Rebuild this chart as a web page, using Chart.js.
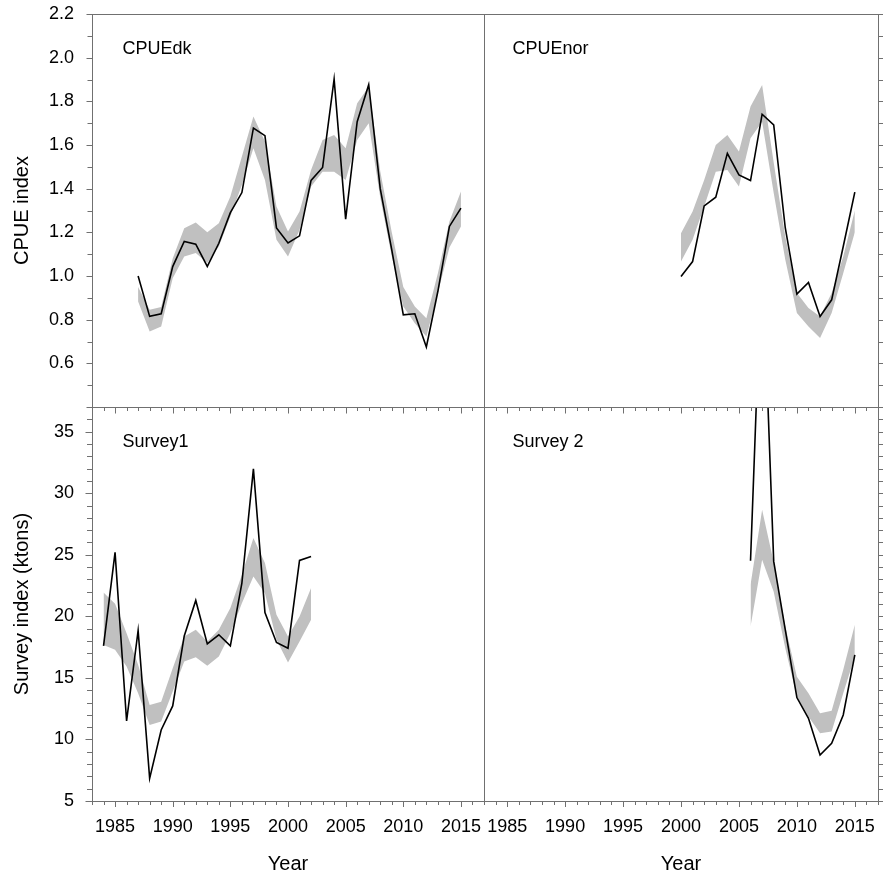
<!DOCTYPE html>
<html><head><meta charset="utf-8">
<script src="https://cdn.jsdelivr.net/npm/chart.js@4.4.1/dist/chart.umd.min.js"></script>
<style>
html,body{margin:0;padding:0;background:#fff;}
#wrap{position:relative;width:883px;height:879px;overflow:hidden;}
#wrap canvas{position:absolute;left:0;top:0;}
</style></head><body>
<div id="wrap">
<canvas id="cTL" width="883" height="879"></canvas>
<canvas id="cTR" width="883" height="879"></canvas>
<canvas id="cBL" width="883" height="879"></canvas>
<canvas id="cBR" width="883" height="879"></canvas>
</div>
<script>
// ---------------- data ----------------
const dkYears  = [1987,1988,1989,1990,1991,1992,1993,1994,1995,1996,1997,1998,1999,2000,2001,2002,2003,2004,2005,2006,2007,2008,2009,2010,2011,2012,2013,2014,2015];
const dkIndex  = [1.00,0.815,0.827,1.043,1.158,1.146,1.044,1.15,1.29,1.382,1.678,1.643,1.22,1.151,1.184,1.438,1.497,1.902,1.26,1.707,1.876,1.40,1.12,0.822,0.827,0.675,0.93,1.227,1.311];
const dkUpper  = [0.95,0.845,0.858,1.08,1.219,1.245,1.20,1.242,1.364,1.547,1.73,1.616,1.318,1.204,1.295,1.486,1.623,1.646,1.585,1.791,1.867,1.48,1.20,0.95,0.86,0.807,1.013,1.25,1.387];
const dkLower  = [0.883,0.746,0.769,0.99,1.089,1.105,1.06,1.135,1.272,1.417,1.585,1.44,1.166,1.089,1.211,1.41,1.478,1.478,1.44,1.623,1.70,1.36,1.09,0.86,0.784,0.723,0.922,1.13,1.227];

const norYears = [2000,2001,2002,2003,2004,2005,2006,2007,2008,2009,2010,2011,2012,2013,2014,2015];
const norIndex = [0.998,1.066,1.321,1.361,1.562,1.463,1.437,1.741,1.692,1.22,0.917,0.97,0.815,0.891,1.135,1.384];
const norUpper = [1.196,1.295,1.44,1.60,1.646,1.57,1.776,1.875,1.52,1.18,0.922,0.853,0.815,0.922,1.089,1.30];
const norLower = [1.066,1.166,1.318,1.478,1.486,1.41,1.631,1.707,1.38,1.075,0.83,0.769,0.716,0.83,1.013,1.20];

const s1Years  = [1984,1985,1986,1987,1988,1989,1990,1991,1992,1993,1994,1995,1996,1997,1998,1999,2000,2001,2002];
const s1Index  = [17.6,25.19,11.5,18.85,6.84,10.77,12.72,18.41,21.29,17.76,18.5,17.6,22.7,31.97,20.31,17.87,17.41,24.54,24.86];
const s1Upper  = [21.94,21.02,18.63,16.06,12.8,13.07,15.79,18.36,18.9,17.95,18.9,20.67,23.37,26.36,24.32,20.12,18.36,19.98,22.29];
const s1Lower  = [17.68,17.28,15.92,13.76,11.18,11.45,13.89,16.33,16.68,15.98,16.73,18.63,21.07,23.24,21.88,18.09,16.24,17.95,19.72];

const s2Years  = [2006,2007,2008,2009,2010,2011,2012,2013,2014,2015];
const s2Index  = [24.51,50,24.46,18.9,13.4,11.72,8.74,9.69,11.99,16.87];
const s2Upper  = [22.56,28.66,24.4,19.2,15.1,13.75,12.13,12.34,15.65,19.31];
const s2Lower  = [19.17,24.59,22.0,17.4,13.48,11.86,10.5,10.64,13.75,16.73];

const yearTickLabels   = ['1985','1990','1995','2000','2005','2010','2015'];
const cpueTickLabels   = ['0.6','0.8','1.0','1.2','1.4','1.6','1.8','2.0','2.2'];
const surveyTickLabels = ['5','10','15','20','25','30','35'];
const panelLabels = ['CPUEdk','CPUEnor','Survey1','Survey 2'];

// ---------------- styling ----------------
const FONT = "'Liberation Sans', Arial, sans-serif";
const BAND = '#c0c0c0';
const FRAME = '#707070';

function pts(xs, ys){ return xs.map((x,i)=>({x:x, y:ys[i]})); }

const panelDecor = {
  id: 'panelDecor',
  afterDatasetsDraw(chart, args, o) {
    const {ctx, chartArea: a} = chart;
    const xs = chart.scales.x, ys = chart.scales.y;
    ctx.save();
    ctx.strokeStyle = FRAME; ctx.lineWidth = 1;
    ctx.beginPath();
    const near = (v, every) => Math.abs(v/every - Math.round(v/every)) < 1e-6;
    (o.ticks || []).forEach(t => {
      const horiz = (t.side === 'top' || t.side === 'bottom');
      const sc = horiz ? xs : ys;
      const step = horiz ? o.xStep : o.yStep;
      const every = horiz ? o.xMajor : o.yMajor;
      const n = Math.round((sc.max - sc.min)/step);
      for (let i = 0; i <= n; i++) {
        const v = sc.min + i*step;
        const p = Math.round(sc.getPixelForValue(v)) + 0.5;
        const len = near(v, every) ? t.major : t.minor;
        if (horiz) {
          const e = Math.round(t.side === 'top' ? a.top : a.bottom) + 0.5;
          const d = (t.side === 'top') === (t.dir === 'in') ? 1 : -1;
          ctx.moveTo(p, e); ctx.lineTo(p, e + d*len);
        } else {
          const e = Math.round(t.side === 'left' ? a.left : a.right) + 0.5;
          const d = (t.side === 'left') === (t.dir === 'in') ? 1 : -1;
          ctx.moveTo(e, p); ctx.lineTo(e + d*len, p);
        }
      }
    });
    ctx.stroke();
    ctx.strokeRect(Math.round(a.left)+0.5, Math.round(a.top)+0.5, Math.round(a.right-a.left), Math.round(a.bottom-a.top));
    ctx.fillStyle = '#000';
    ctx.font = '18px ' + FONT;
    ctx.textAlign = 'left'; ctx.textBaseline = 'alphabetic';
    ctx.fillText(o.label, a.left + o.dx, a.top + o.dy);
    ctx.restore();
  }
};

function noPad(s){ s.paddingTop = 0; s.paddingBottom = 0; s.paddingLeft = 0; s.paddingRight = 0; }

function makePanel(id, p) {
  const xScale = {
    type: 'linear', min: 1983, max: 2017, display: p.showX,
    grid: {display: false, drawTicks: false}, border: {display: false},
    ticks: {stepSize: 1, autoSkip: false, maxRotation: 0, padding: 15, color: '#000',
      font: {family: FONT, size: 18},
      callback: v => yearTickLabels.includes(String(v)) ? String(v) : ''},
    title: {display: p.showX, text: 'Year', color: '#000', font: {family: FONT, size: 20}, padding: {top: 0, bottom: 3}}
  };
  if (p.showX) xScale.afterFit = s => { s.height = 78; noPad(s); };
  const yScale = {
    type: 'linear', min: p.ymin, max: p.ymax, position: 'left', display: p.showY,
    grid: {display: false, drawTicks: false}, border: {display: false},
    ticks: {stepSize: p.yStep, autoSkip: false, padding: 18, color: '#000',
      font: {family: FONT, size: 18},
      callback: v => { const s = p.fmt(v); return p.yLabels.includes(s) ? s : ''; }},
    title: {display: p.showY, text: p.yTitle, color: '#000', font: {family: FONT, size: 20}, padding: {top: 10, bottom: 0}}
  };
  if (p.showY) yScale.afterFit = s => { s.width = 92; noPad(s); };

  return new Chart(document.getElementById(id), {
    type: 'line',
    data: { datasets: [
      {data: pts(p.years, p.index), borderWidth: 1.6, borderColor: '#000', pointRadius: 0, fill: false, tension: 0},
      {data: pts(p.years, p.upper), borderWidth: 0, borderColor: 'rgba(0,0,0,0)', pointRadius: 0, fill: '+1', backgroundColor: BAND},
      {data: pts(p.years, p.lower), borderWidth: 0, borderColor: 'rgba(0,0,0,0)', pointRadius: 0, fill: false}
    ]},
    options: {
      responsive: false, animation: false, events: [],
      layout: {padding: p.padding},
      plugins: {
        legend: {display: false}, tooltip: {enabled: false},
        panelDecor: {label: p.label, dx: p.dx, dy: 40, ticks: p.ticks,
          xStep: 1, xMajor: 5, yStep: p.yStep, yMajor: p.yMajor}
      },
      scales: {x: xScale, y: yScale}
    },
    plugins: [panelDecor]
  });
}

const fmtCpue = v => (Math.round(v*10)/10).toFixed(1);
const fmtSurvey = v => String(Math.round(v));

makePanel('cTL', {years: dkYears, index: dkIndex, upper: dkUpper, lower: dkLower, label: panelLabels[0], dx: 30.5,
  ymin: 0.4, ymax: 2.2, yStep: 0.1, yMajor: 0.2, yLabels: cpueTickLabels, fmt: fmtCpue, yTitle: 'CPUE index',
  showX: false, showY: true, padding: {left: 0, top: 14, right: 399, bottom: 472},
  ticks: [{side: 'left', dir: 'out', major: 6, minor: 5}]});
makePanel('cTR', {years: norYears, index: norIndex, upper: norUpper, lower: norLower, label: panelLabels[1], dx: 28.5,
  ymin: 0.4, ymax: 2.2, yStep: 0.1, yMajor: 0.2, yLabels: cpueTickLabels, fmt: fmtCpue, yTitle: '',
  showX: false, showY: false, padding: {left: 484, top: 14, right: 5, bottom: 472},
  ticks: [{side: 'right', dir: 'out', major: 5, minor: 5}]});
makePanel('cBL', {years: s1Years, index: s1Index, upper: s1Upper, lower: s1Lower, label: panelLabels[2], dx: 30.5,
  ymin: 5, ymax: 37, yStep: 1, yMajor: 5, yLabels: surveyTickLabels, fmt: fmtSurvey, yTitle: 'Survey index (ktons)',
  showX: true, showY: true, padding: {left: 0, top: 407, right: 399, bottom: 0},
  ticks: [{side: 'left', dir: 'out', major: 7, minor: 5.5}, {side: 'top', dir: 'in', major: 6, minor: 3.5}, {side: 'bottom', dir: 'out', major: 5.5, minor: 3.5}]});
makePanel('cBR', {years: s2Years, index: s2Index, upper: s2Upper, lower: s2Lower, label: panelLabels[3], dx: 28.5,
  ymin: 5, ymax: 37, yStep: 1, yMajor: 5, yLabels: surveyTickLabels, fmt: fmtSurvey, yTitle: '',
  showX: true, showY: false, padding: {left: 484, top: 407, right: 5, bottom: 0},
  ticks: [{side: 'right', dir: 'out', major: 5, minor: 5}, {side: 'top', dir: 'in', major: 6, minor: 3.5}, {side: 'bottom', dir: 'out', major: 5.5, minor: 3.5}]});
</script>
</body></html>
